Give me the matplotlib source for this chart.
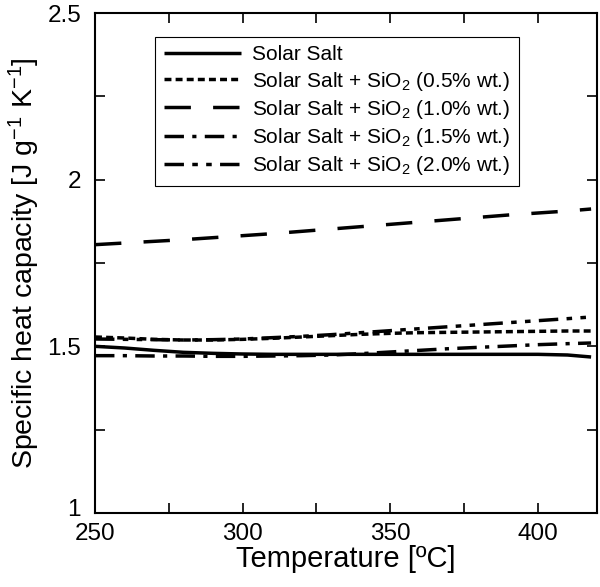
import matplotlib.pyplot as plt
from matplotlib.ticker import MultipleLocator
from matplotlib.transforms import ScaledTranslation

plt.rcParams['font.family'] = ['Liberation Sans', 'DejaVu Sans']
plt.rcParams['mathtext.fontset'] = 'custom'
plt.rcParams['mathtext.rm'] = 'Liberation Sans'
plt.rcParams['mathtext.it'] = 'Liberation Sans'
plt.rcParams['mathtext.default'] = 'regular'
plt.rcParams['lines.scale_dashes'] = False

# temperatures [C] and specific heat capacity values
temp = [250, 260, 270, 280, 290, 300, 310, 320, 330, 340, 350, 360, 370, 380, 390, 400, 410, 418]
solar_salt = [1.500, 1.495, 1.488, 1.482, 1.479, 1.477, 1.476, 1.476, 1.476, 1.476, 1.476, 1.476, 1.476, 1.476, 1.476, 1.476, 1.474, 1.468]
sio2_05 = [1.528, 1.525, 1.521, 1.519, 1.519, 1.521, 1.524, 1.528, 1.532, 1.536, 1.539, 1.541, 1.542, 1.543, 1.544, 1.545, 1.546, 1.546]
sio2_10 = [1.805, 1.810, 1.815, 1.820, 1.826, 1.832, 1.838, 1.845, 1.852, 1.859, 1.866, 1.873, 1.880, 1.887, 1.894, 1.900, 1.906, 1.912]
sio2_15 = [1.472, 1.472, 1.471, 1.471, 1.470, 1.470, 1.471, 1.472, 1.474, 1.478, 1.483, 1.488, 1.493, 1.497, 1.501, 1.505, 1.508, 1.510]
sio2_20 = [1.522, 1.521, 1.520, 1.519, 1.520, 1.522, 1.526, 1.530, 1.535, 1.541, 1.547, 1.553, 1.559, 1.565, 1.571, 1.577, 1.583, 1.588]

labels = ['Solar Salt',
          'Solar Salt + SiO$_2$ (0.5% wt.)',
          'Solar Salt + SiO$_2$ (1.0% wt.)',
          'Solar Salt + SiO$_2$ (1.5% wt.)',
          'Solar Salt + SiO$_2$ (2.0% wt.)']
series = [solar_salt, sio2_05, sio2_10, sio2_15, sio2_20]
dash_styles = [(0, ()),
               (0, (5, 3)),
               (0, (19, 16)),
               (0, (14, 6, 3, 6)),
               (0, (14, 6, 4, 6, 4, 6))]

fig = plt.figure(figsize=(6.0, 5.87), dpi=100)
ax = fig.add_axes([95 / 600, 1 - 513 / 587, 502 / 600, 500 / 587])

for y, lab, ls in zip(series, labels, dash_styles):
    ax.plot(temp, y, color='black', linewidth=2.5, linestyle=ls, label=lab)

ax.set_xlim(250, 420)
ax.set_ylim(1, 2.5)
ax.xaxis.set_major_locator(MultipleLocator(50))
ax.xaxis.set_minor_locator(MultipleLocator(25))
ax.yaxis.set_major_locator(MultipleLocator(0.5))
ax.yaxis.set_minor_locator(MultipleLocator(0.25))
ax.set_yticks([1, 1.5, 2, 2.5])
ax.set_yticklabels(['1', '1.5', '2', '2.5'])
ax.tick_params(which='both', direction='in', top=True, right=True, labelsize=17.5)
ax.tick_params(which='both', length=7, width=1.2)
ax.tick_params(axis='y', pad=10)
ax.tick_params(axis='x', pad=7)
for s in ax.spines.values():
    s.set_linewidth(1.5)

# lift the bottom y label a little so it clears the first x label
fig.canvas.draw()
ylab0 = ax.get_yticklabels()[0]
ylab0.set_transform(ylab0.get_transform() + ScaledTranslation(0, 4 / 72, fig.dpi_scale_trans))

ax.set_xlabel('Temperature [ºC]', fontsize=21, labelpad=0)
ax.set_ylabel('Specific heat capacity [J g$^{-1}$ K$^{-1}$]', fontsize=20.5, labelpad=4)

leg = ax.legend(loc='upper left', bbox_to_anchor=(0.12, 0.952), fontsize=15,
                handlelength=3.7, handletextpad=0.55, labelspacing=0.25,
                fancybox=False, edgecolor='black', framealpha=1,
                borderpad=0.4, borderaxespad=0)
leg.get_frame().set_linewidth(0.8)

plt.savefig('out.png', dpi=100)
